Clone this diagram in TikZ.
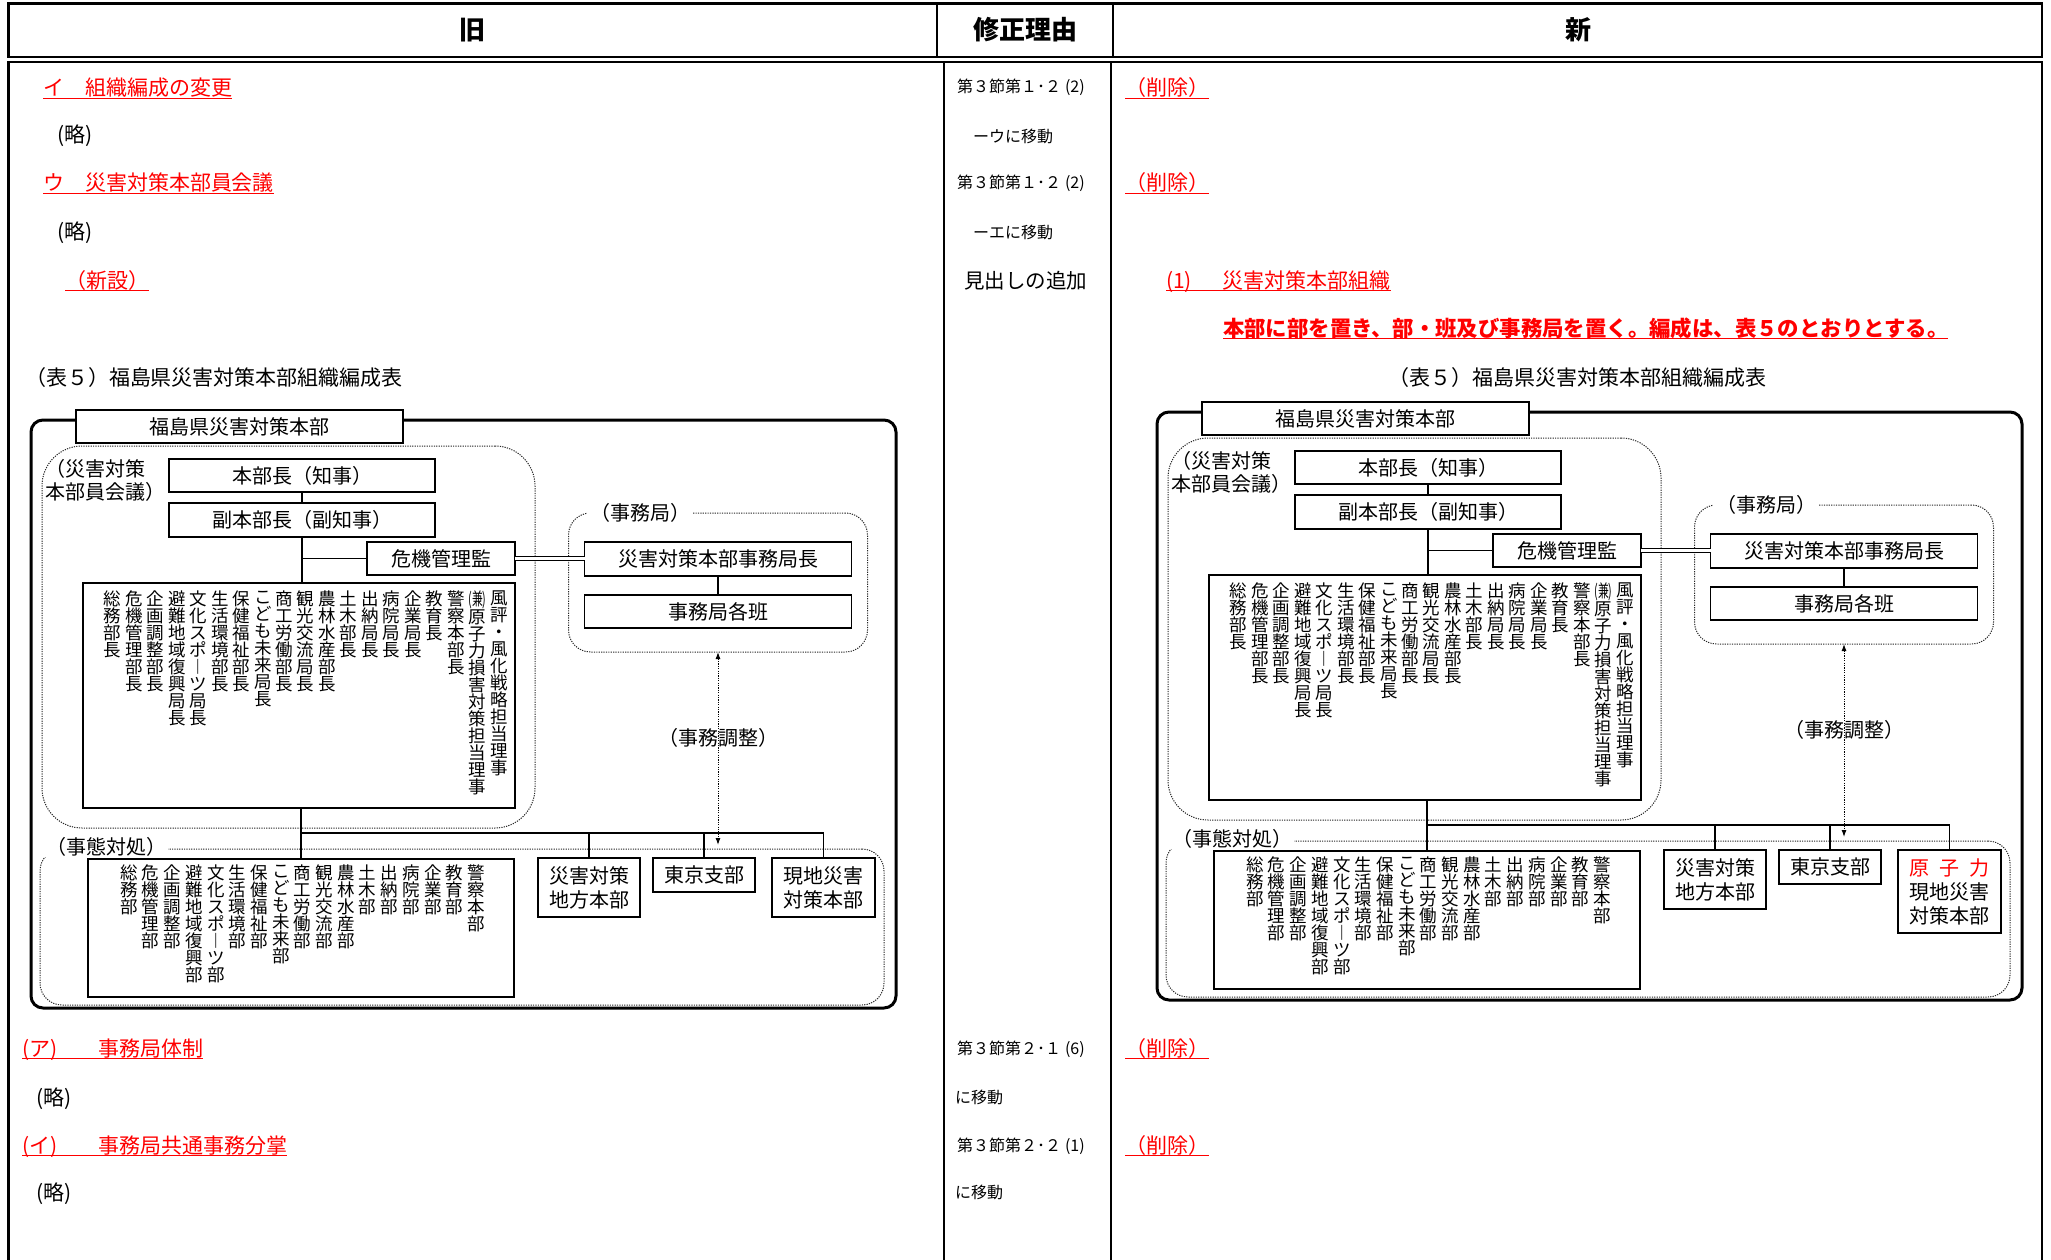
\documentclass[tikz,border=0pt]{standalone}
\usepackage{fontspec}
\setmainfont{Noto Sans CJK JP}
\usetikzlibrary{arrows.meta}
\tikzset{
  every node/.style={inner sep=0pt, outer sep=0pt},
  hdr/.style={font=\fontsize{26}{30}\selectfont\bfseries},
  bodytxt/.style={font=\fontsize{21}{25}\selectfont, anchor=base west},
  redtxt/.style={bodytxt, text=red},
  midtxt/.style={font=\fontsize{16}{18}\selectfont, anchor=base west},
  uline/.style={red, line width=1.5pt},
  tabline/.style={line width=2.6pt},
  colline/.style={line width=1.4pt},
  chbox/.style={draw, line width=1.4pt, fill=white, font=\fontsize{20}{24}\selectfont, align=center},
  dotbox/.style={draw=black!85, dash pattern=on 1.2pt off 1.2pt, line width=1pt, rounded corners=#1},
  lbl/.style={font=\fontsize{20}{24}\selectfont},
  conn/.style={line width=1.4pt},
  busline/.style={line width=2.4pt},
  dblline/.style={double, double distance=2.2pt, line width=1.3pt},
  dotarrow/.style={dash pattern=on 1.2pt off 1.2pt, line width=1pt, {Latex[length=7pt,width=5pt]}-{Latex[length=7pt,width=5pt]}},
  vcol/.style={font=\fontsize{17.5}{17}\selectfont, align=center, anchor=north},
  outerframe/.style={line width=3pt, rounded corners=12pt},
}
\newcommand\orgchart[3]{%
  \draw[outerframe] (31,420) rectangle (896,1008);
  \node[chbox, minimum width=327pt, minimum height=33pt] (#1title) at (239.5,426.5) {福島県災害対策本部};
  \node[dotbox=40pt, minimum width=493pt, minimum height=382pt] (#1kaigi) at (288.5,637) {};
  \node[font=\fontsize{20}{23}\selectfont, anchor=north west, align=left] (#1kaigiL) at (45,459) {（災害対策\\本部員会議）};
  \node[chbox, minimum width=266pt, minimum height=33pt] (#1chiji) at (302,475.5) {本部長（知事）};
  \node[chbox, minimum width=266pt, minimum height=34pt] (#1fuku) at (302,520) {副本部長（副知事）};
  \node[chbox, minimum width=148pt, minimum height=33pt] (#1kiki) at (441,558.5) {危機管理監};
  \node[dotbox=22pt, minimum width=299pt, minimum height=139pt] (#1jrect) at (718,582.5) {};
  \node[lbl, fill=white, inner xsep=3pt] (#1jL) at (640,513) {（事務局）};
  \node[chbox, minimum width=267pt, minimum height=34pt] (#1jimu) at (718,559) {災害対策本部事務局長};
  \node[chbox, minimum width=267pt, minimum height=33pt] (#1han) at (718,611.5) {事務局各班};
  \node[chbox, minimum width=432pt, minimum height=225pt] (#1ulist) at (299,695.5) {};
  \node[dotbox=22pt, minimum width=844pt, minimum height=156pt] (#1jtai) at (462,927) {};
  \node[lbl, fill=white, inner xsep=2pt] (#1jtaiL) at (106,847) {（事態対処）};
  \node[chbox, minimum width=426pt, minimum height=138pt] (#1llist) at (301,928) {};
  \node[chbox, minimum width=102pt, minimum height=59pt, anchor=north] (#1chiho) at (589,858) {災害対策\\地方本部};
  \node[chbox, minimum width=102pt, minimum height=34pt, anchor=north] (#1tokyo) at (704,858) {東京支部};
  \node[chbox, minimum width=103pt, minimum height=#3, anchor=north] (#1gen) at (823.5,858) {#2};
  % connectors
  \draw[conn] (#1chiji) -- (#1fuku);
  \draw[conn] (#1fuku.south) -- (#1fuku.south |- #1ulist.north);
  \draw[conn] (#1fuku.south |- #1kiki.west) -- (#1kiki.west);
  \draw[dblline] (#1kiki.east) -- (#1kiki.east -| #1jimu.west);
  \draw[conn] (#1jimu) -- (#1han);
  \coordinate (#1aend) at (718,845);
  \draw[dotarrow] (#1han.south |- #1jrect.south) -- (#1aend);
  \node[lbl] (#1cho) at (718,738) {（事務調整）};
  \coordinate (#1bus) at (301,833);
  \draw[conn] (#1ulist.south -| #1bus) -- (#1llist.north -| #1bus);
  \draw[busline] (#1bus) -- (#1gen.north |- #1bus);
  \draw[conn] (#1chiho.north) -- (#1chiho.north |- #1bus);
  \draw[conn] (#1tokyo.north) -- (#1tokyo.north |- #1bus);
  \draw[conn] (#1gen.north) -- (#1gen.north |- #1bus);
  % upper list columns
  \foreach \t [count=\i] in {{総\\務\\部\\長},{危\\機\\管\\理\\部\\長},{企\\画\\調\\整\\部\\長},{避\\難\\地\\域\\復\\興\\局\\長},{文\\化\\ス\\ポ\\︱\\ツ\\局\\長},{生\\活\\環\\境\\部\\長},{保\\健\\福\\祉\\部\\長},{こ\\ど\\も\\未\\来\\局\\長},{商\\工\\労\\働\\部\\長},{観\\光\\交\\流\\局\\長},{農\\林\\水\\産\\部\\長},{土\\木\\部\\長},{出\\納\\局\\長},{病\\院\\局\\長},{企\\業\\局\\長},{教\\育\\長},{警\\察\\本\\部\\長},{\scalebox{0.62}[1]{(兼)}\\原\\子\\力\\損\\害\\対\\策\\担\\当\\理\\事},{風\\評\\・\\風\\化\\戦\\略\\担\\当\\理\\事}}
    \node[vcol] (#1u\i) at ({112.5+(\i-1)*21.47},591) {\t};
  % lower list columns
  \foreach \t [count=\i] in {{総\\務\\部},{危\\機\\管\\理\\部},{企\\画\\調\\整\\部},{避\\難\\地\\域\\復\\興\\部},{文\\化\\ス\\ポ\\︱\\ツ\\部},{生\\活\\環\\境\\部},{保\\健\\福\\祉\\部},{こ\\ど\\も\\未\\来\\部},{商\\工\\労\\働\\部},{観\\光\\交\\流\\部},{農\\林\\水\\産\\部},{土\\木\\部},{出\\納\\部},{病\\院\\部},{企\\業\\部},{教\\育\\部},{警\\察\\本\\部}}
    \node[vcol] (#1l\i) at ({129+(\i-1)*21.7},865) {\t};
}
\begin{document}
\begin{tikzpicture}[x=1pt,y=-1pt]
\useasboundingbox (0,0) rectangle (2051,1260);
% table
\draw[tabline] (8.5,3.5) rectangle (2042,57);
\draw[colline] (937,3.5) -- (937,57);
\draw[colline] (1113,3.5) -- (1113,57);
\draw[tabline] (8.5,1265) -- (8.5,62) -- (2042,62) -- (2042,1265);
\draw[colline] (944,62) -- (944,1265);
\draw[colline] (1111,62) -- (1111,1265);
% headers
\node[hdr] (h1) at (472,30) {旧};
\node[hdr] (h2) at (1025,30) {修正理由};
\node[hdr] (h3) at (1578,30) {新};
% old column
\node[redtxt] (t1) at (43,96) {イ　組織編成の変更};
\draw[uline] ([yshift=-2.5pt]t1.base west) -- ([yshift=-2.5pt]t1.base east);
\node[bodytxt] (t2) at (57,143) {(略)};
\node[redtxt] (t3) at (43,191) {ウ　災害対策本部員会議};
\draw[uline] ([yshift=-2.5pt]t3.base west) -- ([yshift=-2.5pt]t3.base east);
\node[bodytxt] (t4) at (57,240) {(略)};
\node[redtxt] (t5) at (65,288) {（新設）};
\draw[uline] ([yshift=-2.5pt]t5.base west) -- ([yshift=-2.5pt]t5.base east);
\node[bodytxt] (t6) at (25,385) {（表５）福島県災害対策本部組織編成表};
\node[redtxt] (b1) at (22,1056) {(ア)\hspace{41pt}事務局体制};
\draw[uline] ([yshift=-2.5pt]b1.base west) -- ([yshift=-2.5pt]b1.base east);
\node[bodytxt] (b2) at (36,1105) {(略)};
\node[redtxt] (b3) at (22,1153) {(イ)\hspace{41pt}事務局共通事務分掌};
\draw[uline] ([yshift=-2.5pt]b3.base west) -- ([yshift=-2.5pt]b3.base east);
\node[bodytxt] (b4) at (36,1200) {(略)};
% middle column
\node[midtxt] (m1) at (957,93) {第３節第１･２\hspace{4pt}(2)};
\node[midtxt] (m2) at (973,143) {ーウに移動};
\node[midtxt] (m3) at (957,189) {第３節第１･２\hspace{4pt}(2)};
\node[midtxt] (m4) at (973,239) {ーエに移動};
\node[midtxt, font=\fontsize{20.5}{24}\selectfont] (m5) at (964,288) {見出しの追加};
\node[midtxt] (m6) at (957,1054) {第３節第２･１\hspace{4pt}(6)};
\node[midtxt] (m7) at (955,1103) {に移動};
\node[midtxt] (m8) at (957,1151) {第３節第２･２\hspace{4pt}(1)};
\node[midtxt] (m9) at (955,1198) {に移動};
% new column
\node[redtxt] (n1) at (1125,96) {（削除）};
\draw[uline] ([yshift=-2.5pt]n1.base west) -- ([yshift=-2.5pt]n1.base east);
\node[redtxt] (n2) at (1125,191) {（削除）};
\draw[uline] ([yshift=-2.5pt]n2.base west) -- ([yshift=-2.5pt]n2.base east);
\node[redtxt] (n3) at (1166,288) {(1)\hspace{31pt}災害対策本部組織};
\draw[uline] ([yshift=-2.5pt]n3.base west) -- ([yshift=-2.5pt]n3.base east);
\node[redtxt, font=\fontsize{21.4}{26}\selectfont\bfseries] (n4) at (1223,336) {本部に部を置き、部・班及び事務局を置く。編成は、表５のとおりとする。};
\draw[uline] ([yshift=-2.5pt]n4.base west) -- ([yshift=-2.5pt]n4.base east);
\node[bodytxt] (n5) at (1388,385) {（表５）福島県災害対策本部組織編成表};
\node[redtxt] (n6) at (1125,1056) {（削除）};
\draw[uline] ([yshift=-2.5pt]n6.base west) -- ([yshift=-2.5pt]n6.base east);
\node[redtxt] (n7) at (1125,1153) {（削除）};
\draw[uline] ([yshift=-2.5pt]n7.base west) -- ([yshift=-2.5pt]n7.base east);
% charts
\begin{scope}
\orgchart{o}{現地災害\\対策本部}{59pt}
\end{scope}
\begin{scope}[shift={(1126,-8)}]
\orgchart{n}{\textcolor{red}{原\hspace{10pt}子\hspace{10pt}力}\\現地災害\\対策本部}{83pt}
\end{scope}
\end{tikzpicture}
\end{document}
